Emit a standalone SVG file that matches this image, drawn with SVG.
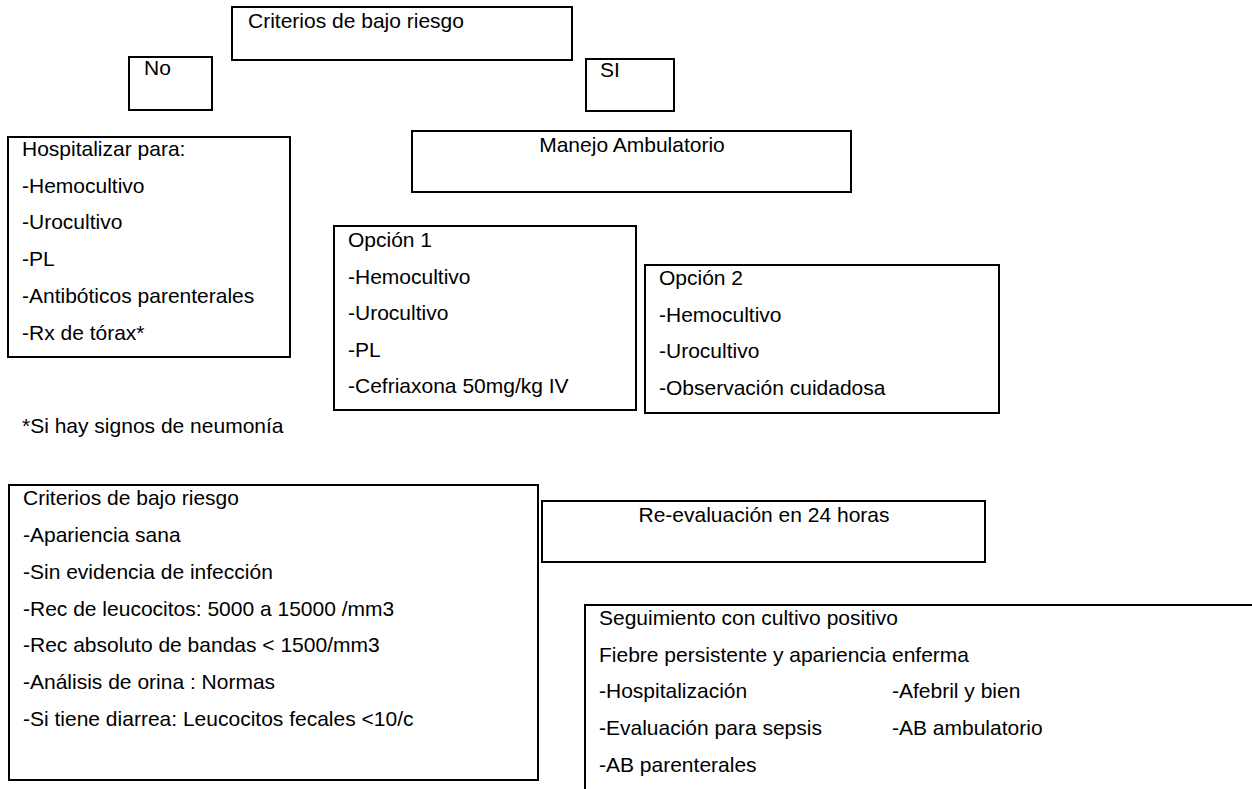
<svg xmlns="http://www.w3.org/2000/svg" width="1252" height="789" viewBox="0 0 1252 789">
<style>
.box{fill:#fff;stroke:#000;stroke-width:2}
text{font-family:"Liberation Sans",Arial,sans-serif;font-size:21px;fill:#000}
.c{text-anchor:middle}
</style>
<rect width="1252" height="789" fill="#fff"/>
<g id="connectors"></g>
<g id="criterios-top"><rect class="box" x="232" y="7" width="340" height="53"/><text x="248" y="28">Criterios de bajo riesgo</text></g>
<g id="no"><rect class="box" x="129" y="57" width="83" height="53"/><text x="144" y="75">No</text></g>
<g id="si"><rect class="box" x="586" y="59" width="88" height="52"/><text x="600" y="77">SI</text></g>
<g id="hospitalizar"><rect class="box" x="8" y="137" width="282" height="220"/>
<text x="22" y="156">Hospitalizar para:</text>
<text x="22" y="193">-Hemocultivo</text>
<text x="22" y="229">-Urocultivo</text>
<text x="22" y="266">-PL</text>
<text x="22" y="303">-Antibóticos parenterales</text>
<text x="22" y="340">-Rx de tórax*</text></g>
<g id="manejo"><rect class="box" x="412" y="131" width="439" height="61"/><text class="c" x="632" y="152">Manejo Ambulatorio</text></g>
<g id="opcion1"><rect class="box" x="334" y="226" width="302" height="184"/>
<text x="348" y="247">Opción 1</text>
<text x="348" y="284">-Hemocultivo</text>
<text x="348" y="320">-Urocultivo</text>
<text x="348" y="357">-PL</text>
<text x="348" y="393">-Cefriaxona 50mg/kg IV</text></g>
<g id="opcion2"><rect class="box" x="645" y="265" width="354" height="148"/>
<text x="659" y="285">Opción 2</text>
<text x="659" y="322">-Hemocultivo</text>
<text x="659" y="358">-Urocultivo</text>
<text x="659" y="395">-Observación cuidadosa</text></g>
<g id="nota"><text x="22" y="433">*Si hay signos de neumonía</text></g>
<g id="criterios-bottom"><rect class="box" x="9" y="485" width="529" height="295"/>
<text x="23" y="505">Criterios de bajo riesgo</text>
<text x="23" y="542">-Apariencia sana</text>
<text x="23" y="579">-Sin evidencia de infección</text>
<text x="23" y="616">-Rec de leucocitos: 5000 a 15000 /mm3</text>
<text x="23" y="652">-Rec absoluto de bandas &lt; 1500/mm3</text>
<text x="23" y="689">-Análisis de orina : Normas</text>
<text x="23" y="726">-Si tiene diarrea: Leucocitos fecales &lt;10/c</text></g>
<g id="reevaluacion"><rect class="box" x="542" y="501" width="443" height="61"/><text class="c" x="764" y="522">Re-evaluación en 24 horas</text></g>
<g id="seguimiento"><path d="M585 790 V605 H1253" fill="none" stroke="#000" stroke-width="2"/>
<text x="599" y="625">Seguimiento con cultivo positivo</text>
<text x="599" y="662">Fiebre persistente y apariencia enferma</text>
<text x="599" y="698">-Hospitalización</text>
<text x="892" y="698">-Afebril y bien</text>
<text x="599" y="735">-Evaluación para sepsis</text>
<text x="892" y="735">-AB ambulatorio</text>
<text x="599" y="772">-AB parenterales</text></g>
</svg>
